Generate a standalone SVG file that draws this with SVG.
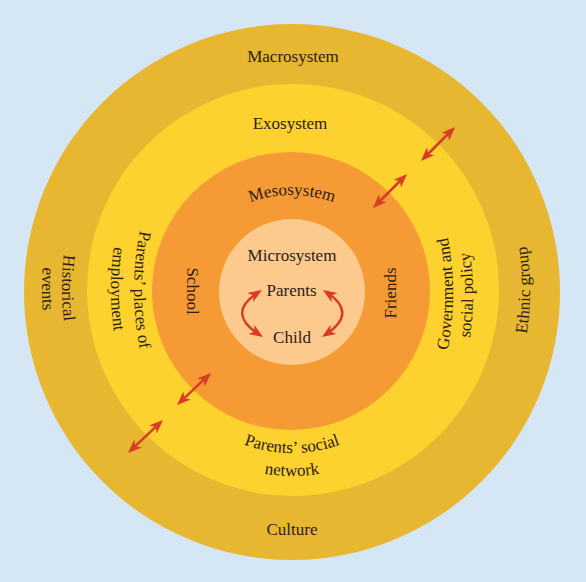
<svg xmlns="http://www.w3.org/2000/svg" width="586" height="582" viewBox="0 0 586 582">
  <style>
    .t { font-family: "Liberation Serif", "Times New Roman", serif; font-size: 17px; fill: #2a2019; }
    .arrow { fill: none; stroke: #d83b26; stroke-width: 2.5; marker-start: url(#head); marker-end: url(#head); }
  </style>
  <defs>
    <marker id="head" viewBox="0 0 14 11" refX="9" refY="5.5" markerWidth="14" markerHeight="11" markerUnits="userSpaceOnUse" orient="auto-start-reverse">
      <path d="M0,0 L14,5.5 L0,11 L4,5.5 Z" fill="#d83b26"/>
    </marker>
    <path id="pMeso" d="M172,315 A120,120 0 0 1 412,315"/>
    <path id="pSocial1" d="M153,314 A139,139 0 0 0 431,314"/>
    <path id="pSocial2" d="M131,315 A161,161 0 0 0 453,315"/>
    <path id="pEmp1" d="M434,-10 A300,300 0 0 0 434,590"/>
    <path id="pEmp2" d="M411,-11 A300,300 0 0 0 411,589"/>
    <path id="pHist1" d="M362,-12 A300,300 0 0 0 362,588"/>
    <path id="pHist2" d="M342,-11 A300,300 0 0 0 342,589"/>
    <path id="pGov1" d="M153,594 A300,300 0 0 0 153,-6"/>
    <path id="pGov2" d="M173,595 A300,300 0 0 0 173,-5"/>
    <path id="pEthnic" d="M230,590 A300,300 0 0 0 230,-10"/>
  </defs>

  <rect width="586" height="582" fill="#d5e6f5"/>

  <g id="macrosystem">
    <circle cx="292" cy="292" r="268" fill="#e8b732"/>
    <text class="t" x="293" y="61.5" text-anchor="middle">Macrosystem</text>
    <text class="t"><textPath href="#pHist1" startOffset="50%" text-anchor="middle">Historical</textPath></text>
    <text class="t"><textPath href="#pHist2" startOffset="50%" text-anchor="middle">events</textPath></text>
    <text class="t"><textPath href="#pEthnic" startOffset="50%" text-anchor="middle">Ethnic group</textPath></text>
    <text class="t" x="292" y="535" text-anchor="middle">Culture</text>
  </g>

  <g id="exosystem">
    <circle cx="293" cy="290" r="206" fill="#fdd22f"/>
    <text class="t" x="290" y="129" text-anchor="middle">Exosystem</text>
    <text class="t"><textPath href="#pEmp1" startOffset="50%" text-anchor="middle">Parents’ places of</textPath></text>
    <text class="t"><textPath href="#pEmp2" startOffset="50%" text-anchor="middle">employment</textPath></text>
    <text class="t"><textPath href="#pGov1" startOffset="50%" text-anchor="middle">Government and</textPath></text>
    <text class="t"><textPath href="#pGov2" startOffset="50%" text-anchor="middle">social policy</textPath></text>
    <text class="t"><textPath href="#pSocial1" startOffset="50%" text-anchor="middle">Parents’ social</textPath></text>
    <text class="t"><textPath href="#pSocial2" startOffset="50%" text-anchor="middle">network</textPath></text>
  </g>

  <g id="mesosystem">
    <circle cx="291" cy="291" r="139" fill="#f59a35"/>
    <text class="t"><textPath href="#pMeso" startOffset="50%" text-anchor="middle">Mesosystem</textPath></text>
    <text class="t" transform="translate(187,291) rotate(90)" text-anchor="middle">School</text>
    <text class="t" transform="translate(396,293) rotate(-90)" text-anchor="middle">Friends</text>
  </g>

  <g id="microsystem">
    <circle cx="292" cy="292" r="73" fill="#fdca8e"/>
    <text class="t" x="292" y="261" text-anchor="middle">Microsystem</text>
    <text class="t" x="291.5" y="296" text-anchor="middle">Parents</text>
    <text class="t" x="292" y="343" text-anchor="middle">Child</text>
  </g>

  <g id="connectors">
    <line class="arrow" x1="376.5" y1="204.5" x2="403.5" y2="177.5"/>
    <line class="arrow" x1="424.5" y1="157.5" x2="451.5" y2="130.5"/>
    <line class="arrow" x1="180.6" y1="401.6" x2="207.4" y2="376.4"/>
    <line class="arrow" x1="131.6" y1="449.6" x2="159.4" y2="423.4"/>
    <path class="arrow" d="M257.8,292.7 Q226,313 258.8,334.3"/>
    <path class="arrow" d="M327.1,292.7 Q358,313 326.1,334.3"/>
  </g>
</svg>
